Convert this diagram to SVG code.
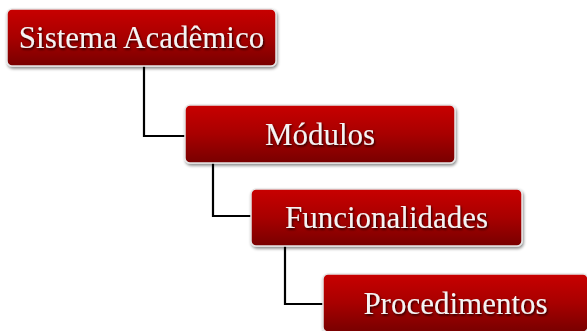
<svg xmlns="http://www.w3.org/2000/svg" width="587" height="331" viewBox="0 0 587 331">
<defs>
<linearGradient id="red" x1="0" y1="0" x2="0" y2="1">
<stop offset="0" stop-color="#c80000"/>
<stop offset="0.5" stop-color="#a80000"/>
<stop offset="1" stop-color="#780000"/>
</linearGradient>
<filter id="sh" x="-10%" y="-20%" width="120%" height="150%">
<feDropShadow dx="1" dy="2" stdDeviation="1.5" flood-color="#000" flood-opacity="0.45"/>
</filter>
<filter id="tsh" x="-10%" y="-30%" width="120%" height="160%">
<feDropShadow dx="1" dy="1.5" stdDeviation="1" flood-color="#000" flood-opacity="0.8"/>
</filter>
</defs>
<style>
.box{fill:url(#red);stroke:#e6e6e6;stroke-width:1.5;filter:url(#sh)}
.lbl{font-family:"Liberation Serif","DejaVu Serif",serif;font-size:31px;fill:#f4f4f4;text-anchor:middle;filter:url(#tsh)}
.conn{fill:none;stroke:#000;stroke-width:2.2}
</style>
<rect width="587" height="331" fill="#fff"/>
<g id="connectors">
<polyline class="conn" points="144,66 144,136 186,136"/>
<polyline class="conn" points="213,163 213,216 252,216"/>
<polyline class="conn" points="285,246 285,304 324,304"/>
</g>
<g id="n1">
<rect class="box" x="7" y="9" width="269" height="57" rx="5"/>
<text class="lbl" x="141.5" y="48">Sistema Acadêmico</text>
</g>
<g id="n2">
<rect class="box" x="185" y="105" width="270" height="58" rx="5"/>
<text class="lbl" x="320" y="145">Módulos</text>
</g>
<g id="n3">
<rect class="box" x="251" y="189" width="271" height="57" rx="5"/>
<text class="lbl" x="386.5" y="228">Funcionalidades</text>
</g>
<g id="n4">
<rect class="box" x="323" y="274" width="265" height="58" rx="5"/>
<text class="lbl" x="455.5" y="314">Procedimentos</text>
</g>
</svg>
